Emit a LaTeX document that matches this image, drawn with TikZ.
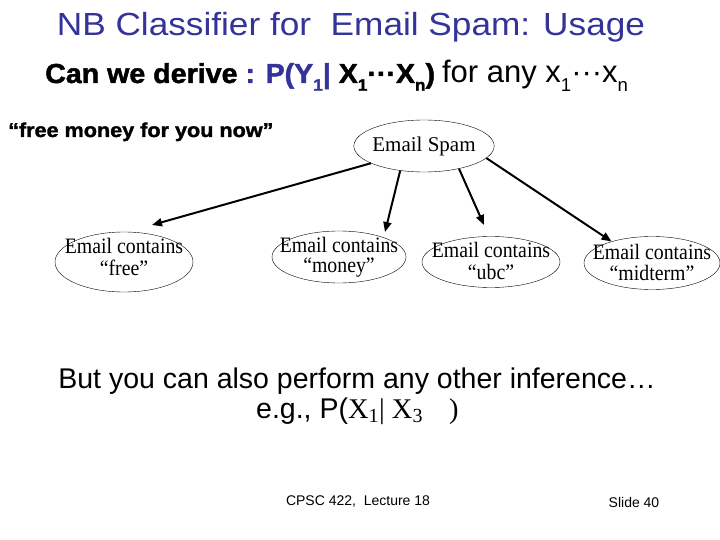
\documentclass[tikz,border=0pt]{standalone}
\usepackage{fontspec}
\setmainfont{Liberation Serif}
\setsansfont{Liberation Sans}
\newfontfamily\arialf{Liberation Sans}
\newfontfamily\heavyf[BoldFeatures={FakeBold=1.6}]{Liberation Sans}
\newfontfamily\timesf{Liberation Serif}
\usetikzlibrary{shapes.geometric,arrows.meta}
\definecolor{slideblue}{RGB}{51,51,153}
\newcommand{\lowsub}[1]{\raisebox{-0.28em}{\scalebox{0.6}{#1}}}
\newcommand{\elab}[3][0pt]{\raisebox{#1}[\height][\depth]{\scalebox{0.9}[1]{\begin{tabular}{@{}c@{}}#2\\#3\end{tabular}}}}
\begin{document}
\begin{tikzpicture}[x=1pt,y=-1pt,
  bnode/.style={draw,ellipse,inner xsep=-18pt,inner ysep=-8pt,font=\timesf\fontsize{22}{20}\selectfont},
  conn/.style={line width=2pt,-{Triangle[length=10pt,width=8pt]}}]
\useasboundingbox[fill=white] (0,0) rectangle (720,540);
\node[font=\arialf\fontsize{32}{34}\selectfont,text=slideblue,anchor=base,inner sep=0pt] (title) at (351,36) {\scalebox{1.1}[1]{NB Classifier for\ \ Email Spam: Usage}};
\node[anchor=base west,inner sep=0pt] (q) at (45,83) {\scalebox{1.04}[1]{\heavyf\bfseries\fontsize{27.5}{28}\selectfont Can we derive \textcolor{slideblue}{: P(Y\lowsub{1}|} X\lowsub{1}···X\lowsub{n})}\hspace{7pt}{\arialf\fontsize{31}{36}\selectfont for any x\lowsub{1}···x\lowsub{n}}};
\node[anchor=base west,inner sep=0pt,font=\heavyf\bfseries\fontsize{20}{22}\selectfont] (ex) at (8,137) {\scalebox{1.08}[1]{“free money for you now”}};
\node[bnode,font=\timesf\fontsize{21}{21}\selectfont,inner xsep=-2pt,inner ysep=0pt,minimum width=138pt,minimum height=52pt] (spam) at (424,146) {Email Spam};
\node[bnode,minimum width=138pt,minimum height=60pt] (free) at (124,262) {\elab[2pt]{Email contains}{“free”}};
\node[bnode,minimum width=134pt,minimum height=52pt] (money) at (339,257) {\elab[-1pt]{Email contains}{“money”}};
\node[bnode,minimum width=138pt,minimum height=51pt] (ubc) at (491,262) {\elab[-2pt]{Email contains}{“ubc”}};
\node[bnode,minimum width=136pt,minimum height=53pt] (mid) at (652,263) {\elab[-2pt]{Email contains}{“midterm”}};
\draw[conn] (spam.198) -- ([shift={(28pt,37pt)}]free.center);
\draw[conn] (spam.226) -- ([shift={(46pt,25pt)}]money.center);
\draw[conn] (spam.327) -- ([shift={(-7pt,37pt)}]ubc.center);
\draw[conn] (spam.349) -- (mid.152);
\node[font=\arialf\fontsize{28.5}{30}\selectfont] (but) at (357,381) {But you can also perform any other inference…};
\node[font=\arialf\fontsize{28.5}{30}\selectfont,anchor=west,inner sep=0pt] (eg) at (256,411) {e.g., P({\timesf X\textsubscript{1}| X\textsubscript{3}\hspace{26pt})}};
\node[font=\arialf\fontsize{14}{16}\selectfont] (foot) at (358,502) {CPSC 422,\ \ Lecture 18};
\node[font=\arialf\fontsize{14}{16}\selectfont] (slide) at (634,502) {Slide 40};
\end{tikzpicture}
\end{document}
